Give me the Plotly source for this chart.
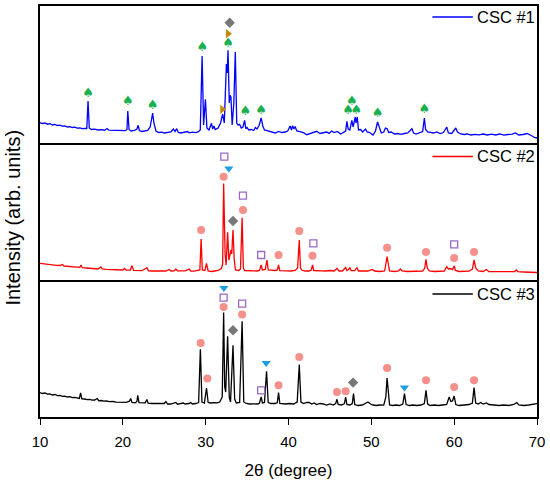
import plotly.graph_objects as go
from plotly.subplots import make_subplots

# 2theta (degree) and intensity (arb. units)
tt1 = [10.0, 10.3, 10.6, 10.9, 11.2, 11.5, 11.8, 12.1, 12.4, 12.7, 13.0, 13.3, 13.6, 13.9, 14.2, 14.5, 14.8, 15.1, 15.4, 15.65,
       15.8, 15.95, 16.2, 16.6, 17.0, 17.4, 17.8, 18.1, 18.3, 18.7, 19.1, 19.5, 19.9, 20.3, 20.5, 20.6, 20.75, 21.0, 21.4, 21.7,
       21.85, 22.0, 22.3, 22.7, 23.0, 23.3, 23.5, 23.6, 23.75, 23.85, 24.0, 24.3, 24.7, 25.0, 25.4, 25.8, 26.1, 26.3, 26.5, 26.7,
       27.0, 27.4, 27.8, 28.0, 28.4, 28.8, 29.1, 29.35, 29.57, 29.75, 29.97, 30.15, 30.4, 30.7, 30.85, 31.0, 31.15, 31.5, 31.8, 32.05,
       32.25, 32.4, 32.5, 32.6, 32.7, 32.85, 32.95, 33.05, 33.2, 33.4, 33.58, 33.75, 33.9, 34.1, 34.3, 34.5, 34.7, 34.85, 35.0, 35.2,
       35.5, 35.8, 36.0, 36.2, 36.45, 36.7, 36.9, 37.1, 37.4, 37.8, 38.1, 38.4, 38.8, 39.2, 39.6, 39.9, 40.2, 40.35, 40.5, 40.65,
       40.8, 41.0, 41.4, 41.8, 42.2, 42.6, 43.0, 43.4, 43.8, 44.2, 44.6, 44.9, 45.2, 45.5, 45.9, 46.3, 46.6, 46.9, 47.05, 47.2,
       47.4, 47.65, 47.8, 48.06, 48.15, 48.3, 48.45, 48.7, 48.95, 49.3, 49.5, 49.8, 50.2, 50.5, 50.75, 51.0, 51.2, 51.5, 51.7, 51.9,
       52.1, 52.4, 52.8, 53.2, 53.6, 54.0, 54.4, 54.9, 55.1, 55.4, 55.8, 56.2, 56.4, 56.55, 56.8, 57.1, 57.5, 57.9, 58.3, 58.7,
       59.1, 59.3, 59.7, 60.2, 60.4, 60.8, 61.2, 61.6, 62.0, 62.5, 63.0, 63.5, 64.0, 64.5, 65.0, 65.5, 66.0, 66.5, 67.0, 67.4,
       67.8, 68.3, 68.8, 69.3, 69.7, 70.0]
int1 = [20.3, 19.5, 20.0, 18.8, 19.3, 18.0, 18.6, 17.5, 17.9, 16.8, 17.2, 16.0, 16.4, 15.5, 15.9, 14.8, 15.2, 14.3, 14.6, 14.5,
        42.0, 15.0, 13.5, 13.8, 13.0, 13.4, 12.8, 14.5, 12.8, 12.6, 12.3, 12.8, 12.0, 12.3, 13.5, 32.0, 13.5, 12.0, 12.5, 14.0,
        17.7, 12.5, 11.5, 11.9, 12.5, 16.0, 25.0, 30.0, 20.0, 17.0, 12.0, 10.5, 10.8, 10.0, 10.6, 11.2, 14.0, 11.5, 14.3, 10.5,
        10.0, 10.6, 11.5, 10.2, 10.8, 10.3, 11.0, 13.0, 87.0, 18.0, 43.7, 15.0, 13.0, 19.7, 14.0, 17.0, 13.5, 15.0, 20.0, 29.0,
        20.0, 55.0, 79.0, 70.0, 92.7, 40.0, 47.7, 46.0, 18.0, 40.0, 91.0, 20.0, 18.0, 18.6, 15.0, 16.0, 22.7, 14.3, 15.5, 13.0,
        13.5, 12.5, 15.5, 14.0, 17.5, 25.0, 17.0, 13.0, 12.3, 11.2, 10.0, 10.0, 11.5, 10.5, 11.0, 12.0, 17.0, 13.0, 17.3, 14.0,
        16.5, 12.0, 11.3, 10.3, 8.3, 9.5, 10.5, 11.7, 9.5, 10.0, 11.0, 9.6, 12.0, 10.5, 11.5, 9.0, 10.5, 12.0, 21.7, 14.0,
        13.0, 22.7, 16.0, 26.0, 20.0, 26.0, 13.0, 13.5, 11.0, 14.0, 11.0, 10.5, 8.0, 12.0, 21.0, 14.0, 10.0, 11.0, 15.0, 14.3,
        10.5, 11.0, 9.0, 9.5, 8.7, 9.5, 10.0, 14.3, 10.0, 9.0, 10.0, 11.5, 25.0, 13.5, 11.0, 10.5, 10.0, 11.0, 9.5, 10.5,
        16.0, 10.0, 9.5, 15.0, 11.0, 9.0, 8.5, 9.0, 8.0, 8.7, 8.2, 9.0, 8.0, 8.8, 8.0, 9.0, 7.8, 8.5, 8.8, 10.0,
        8.0, 8.5, 9.5, 7.5, 5.5, 5.0]

tt2 = [10.0, 10.5, 11.0, 11.5, 12.0, 12.4, 12.7, 12.9, 13.5, 14.0, 14.5, 14.8, 14.95, 15.1, 15.6, 16.0, 16.5, 17.0, 17.35, 17.5,
       18.0, 18.5, 19.0, 19.5, 20.0, 20.2, 20.4, 20.9, 21.1, 21.3, 21.8, 22.3, 22.9, 23.1, 23.6, 24.2, 24.8, 25.2, 25.6, 25.8,
       26.2, 26.4, 26.6, 27.0, 27.5, 28.0, 28.2, 28.6, 29.0, 29.3, 29.45, 29.6, 29.9, 30.1, 30.3, 30.7, 31.1, 31.5, 31.9, 32.05,
       32.17, 32.35, 32.47, 32.65, 32.8, 32.95, 33.06, 33.15, 33.3, 33.45, 33.6, 34.0, 34.2, 34.4, 34.55, 34.7, 35.2, 35.7, 36.2, 36.5,
       36.7, 36.85, 37.2, 37.4, 37.55, 37.9, 38.4, 38.65, 38.8, 38.95, 39.3, 39.8, 40.3, 40.8, 41.1, 41.3, 41.45, 41.6, 42.0, 42.5,
       42.75, 42.9, 43.05, 43.5, 44.0, 44.5, 45.0, 45.5, 45.85, 46.1, 46.5, 46.9, 47.05, 47.25, 47.4, 47.55, 48.0, 48.26, 48.45, 49.0,
       49.6, 50.1, 50.4, 51.0, 51.6, 51.75, 51.9, 52.05, 52.2, 52.8, 53.3, 53.5, 53.7, 54.3, 55.0, 55.6, 56.2, 56.45, 56.6, 56.75,
       57.0, 57.6, 58.2, 58.8, 59.1, 59.3, 59.6, 59.8, 60.0, 60.15, 60.6, 61.2, 61.8, 62.2, 62.4, 62.6, 62.9, 63.5, 63.9, 64.2,
       65.0, 65.8, 66.6, 67.3, 67.5, 67.7, 68.4, 69.2, 70.0]
int2 = [16.6, 16.0, 15.6, 15.3, 14.6, 14.5, 15.5, 14.0, 13.6, 13.2, 12.8, 12.6, 15.0, 12.3, 12.0, 11.8, 11.3, 11.0, 13.0, 11.0,
        10.6, 10.5, 10.2, 10.0, 10.0, 11.5, 9.8, 10.0, 14.3, 9.6, 9.5, 9.3, 12.3, 9.2, 9.0, 9.0, 9.2, 9.0, 10.5, 9.0,
        9.1, 11.0, 9.2, 9.0, 9.2, 11.0, 9.0, 8.8, 9.2, 10.0, 41.0, 10.0, 9.5, 16.6, 9.0, 8.5, 9.0, 9.5, 11.5, 16.0,
        96.6, 25.0, 15.0, 47.6, 20.0, 25.0, 30.0, 26.0, 50.0, 20.0, 10.0, 9.5, 11.0, 62.3, 12.0, 9.5, 9.0, 9.2, 9.0, 9.5,
        15.0, 10.0, 10.5, 20.0, 10.0, 9.5, 9.5, 10.0, 15.0, 9.3, 9.0, 9.2, 9.0, 9.5, 12.0, 40.0, 12.0, 10.0, 9.0, 9.0,
        10.0, 15.0, 9.5, 9.0, 9.2, 9.0, 9.5, 9.0, 11.6, 9.0, 9.0, 12.5, 9.5, 10.5, 12.5, 9.5, 9.3, 12.5, 9.0, 9.0,
        9.0, 10.5, 9.0, 8.5, 9.0, 16.0, 23.3, 16.0, 9.0, 8.5, 9.0, 11.0, 9.0, 8.5, 8.5, 8.7, 9.0, 12.0, 20.6, 12.0,
        9.0, 8.5, 8.5, 9.0, 13.3, 11.0, 11.5, 10.5, 14.0, 9.5, 8.5, 8.5, 8.8, 11.0, 20.0, 12.0, 9.0, 8.5, 10.5, 8.3,
        8.2, 8.2, 8.0, 8.5, 10.0, 8.3, 8.0, 8.0, 7.5]

tt3 = [10.0, 10.3, 10.6, 10.9, 11.2, 11.5, 11.8, 12.1, 12.4, 12.7, 13.0, 13.3, 13.6, 13.9, 14.2, 14.5, 14.75, 14.9, 15.05, 15.4,
       15.7, 16.0, 16.3, 16.6, 16.9, 17.1, 17.4, 17.7, 18.0, 18.4, 18.8, 19.2, 19.6, 20.0, 20.4, 20.8, 20.95, 21.1, 21.5, 21.7,
       21.8, 21.95, 22.3, 22.7, 22.9, 23.05, 23.5, 24.0, 24.5, 25.0, 25.2, 25.4, 25.8, 26.2, 26.4, 26.6, 27.0, 27.3, 27.5, 28.0,
       28.2, 28.4, 28.8, 29.15, 29.36, 29.55, 29.85, 30.1, 30.3, 30.6, 31.0, 31.4, 31.7, 32.0, 32.17, 32.3, 32.42, 32.65, 32.85, 33.0,
       33.3, 33.5, 33.7, 34.1, 34.4, 34.6, 34.9, 35.3, 35.8, 36.3, 36.5, 36.7, 36.85, 37.1, 37.35, 37.55, 37.9, 38.4, 38.65, 38.8,
       38.95, 39.3, 39.7, 40.1, 40.6, 41.05, 41.3, 41.5, 41.8, 42.2, 42.5, 42.8, 43.1, 43.4, 43.8, 44.2, 44.6, 45.0, 45.4, 45.7,
       45.85, 46.0, 46.4, 46.75, 46.9, 47.05, 47.4, 47.7, 47.85, 48.0, 48.4, 48.9, 49.3, 49.6, 49.9, 50.2, 50.6, 51.0, 51.5, 51.75,
       51.9, 52.05, 52.2, 52.6, 53.0, 53.4, 53.8, 54.0, 54.2, 54.6, 55.0, 55.5, 56.0, 56.4, 56.6, 56.8, 57.1, 57.6, 58.1, 58.6,
       59.1, 59.4, 59.6, 59.8, 60.0, 60.2, 60.6, 61.2, 61.8, 62.2, 62.4, 62.6, 62.9, 63.2, 63.5, 63.9, 64.2, 64.8, 65.4, 66.0,
       66.6, 67.2, 67.55, 67.8, 68.4, 69.0, 69.6, 70.0]
int3 = [24.4, 23.5, 24.0, 22.8, 23.2, 22.0, 22.5, 21.3, 21.6, 20.6, 20.9, 20.0, 20.3, 19.4, 19.6, 18.8, 18.6, 24.0, 18.2, 18.0,
        17.3, 17.7, 16.8, 17.0, 18.5, 16.3, 16.5, 15.8, 16.0, 15.3, 15.5, 14.8, 15.0, 14.5, 14.7, 15.8, 18.5, 14.5, 14.2, 15.5,
        21.7, 14.3, 14.0, 14.2, 17.5, 13.8, 13.5, 13.7, 13.2, 13.5, 15.5, 13.0, 13.0, 13.5, 14.5, 12.8, 13.2, 14.0, 13.0, 13.5,
        14.5, 13.0, 13.5, 14.5, 67.7, 15.0, 14.0, 29.0, 14.5, 14.0, 14.4, 14.2, 15.0, 20.0, 104.4, 30.0, 25.0, 80.7, 20.0, 15.0,
        71.7, 18.0, 14.0, 14.5, 95.7, 15.0, 13.5, 13.0, 13.2, 13.0, 14.0, 20.0, 14.0, 14.5, 45.7, 14.5, 13.5, 13.5, 14.5, 24.4,
        13.5, 13.0, 13.0, 13.5, 13.0, 15.0, 52.4, 15.0, 13.5, 14.5, 14.5, 13.0, 14.0, 12.5, 13.5, 13.0, 12.0, 13.0, 12.0, 13.5,
        17.7, 12.5, 12.0, 13.5, 20.0, 12.5, 12.0, 13.5, 23.4, 12.5, 11.5, 12.0, 13.5, 15.0, 13.0, 12.0, 11.5, 12.0, 11.8, 20.0,
        39.0, 20.0, 12.0, 11.5, 12.0, 11.5, 13.0, 23.4, 12.5, 11.5, 12.0, 11.5, 12.0, 13.5, 26.7, 13.0, 11.5, 12.0, 11.5, 12.0,
        12.5, 20.0, 15.5, 16.0, 21.0, 12.5, 11.5, 12.0, 12.5, 14.0, 29.4, 14.0, 13.0, 14.5, 13.0, 14.0, 12.5, 12.0, 11.5, 12.0,
        11.5, 12.5, 14.4, 12.0, 11.5, 12.0, 12.5, 13.4]

# phase markers (2theta, height in the panel)
spade1_x = [15.8, 20.6, 23.6, 29.6, 32.7, 34.8, 36.7, 47.2, 47.65, 48.2, 50.75, 56.4]
spade1_y = [49.3, 41.0, 37.7, 95.0, 99.3, 31.0, 32.7, 32.0, 41.7, 32.7, 29.3, 33.3]
tri_r1_x = [32.0, 32.7]
tri_r1_y = [33.7, 109.3]
diam1_x = [32.9]
diam1_y = [120.3]

circ2_x = [29.45, 32.17, 34.5, 38.8, 41.3, 42.9, 51.9, 56.6, 60.0, 62.4]
circ2_y = [50.0, 103.3, 70.0, 25.0, 49.0, 24.3, 32.3, 28.0, 22.0, 28.0]
sq2_x = [32.25, 34.5, 36.7, 43.0, 60.0]
sq2_y = [123.3, 84.3, 25.0, 36.6, 35.6]
tri_d2_x = [32.8]
tri_d2_y = [111.6]
diam2_x = [33.3]
diam2_y = [59.0]

circ3_x = [29.4, 30.2, 32.17, 34.4, 38.8, 41.3, 45.85, 46.9, 51.9, 56.6, 60.0, 62.4]
circ3_y = [74.0, 38.4, 110.0, 102.4, 31.7, 60.0, 25.0, 25.7, 49.0, 36.7, 30.0, 36.7]
sq3_x = [32.17, 34.4, 36.7]
sq3_y = [119.4, 113.4, 26.7]
tri_d3_x = [32.2, 37.3, 54.0]
tri_d3_y = [129.0, 54.0, 29.4]
diam3_x = [33.3, 47.8]
diam3_y = [86.7, 34.4]

names = ['CSC #1', 'CSC #2', 'CSC #3']
colors = ['#0000ff', '#ff0000', '#000000']

GREEN = '#1aaf4f'
BROWN = '#c68a0c'
GRAY = '#777777'
SALMON = '#f5908a'
PURPLE = '#9a6ac6'
SKY = '#1a9fe0'

fig = make_subplots(rows=3, cols=1, shared_xaxes=True, vertical_spacing=0)

for i, (tt, yy) in enumerate([(tt1, int1), (tt2, int2), (tt3, int3)]):
    fig.add_trace(go.Scatter(x=tt, y=yy, mode='lines', name=names[i],
                             line=dict(color=colors[i], width=1.3), showlegend=False),
                  row=i + 1, col=1)


def add_marks(x, y, row, symbol, color, size=7, open_=False):
    if open_:
        mk = dict(symbol=symbol, size=size, color=color, line=dict(color=color, width=1.3))
    else:
        mk = dict(symbol=symbol, size=size, color=color, line=dict(width=0))
    fig.add_trace(go.Scatter(x=x, y=y, mode='markers', marker=mk, showlegend=False), row=row, col=1)


# panel 1
fig.add_trace(go.Scatter(x=spade1_x, y=spade1_y, mode='text', text=['♠'] * len(spade1_x),
                         textfont=dict(color=GREEN, size=13, family='DejaVu Sans'),
                         textposition='middle center', showlegend=False), row=1, col=1)
add_marks(tri_r1_x, tri_r1_y, 1, 'triangle-right', BROWN, 8)
add_marks(diam1_x, diam1_y, 1, 'diamond', GRAY, 8)
# panel 2
add_marks(circ2_x, circ2_y, 2, 'circle', SALMON, 8)
add_marks(sq2_x, sq2_y, 2, 'square-open', PURPLE, 7, open_=True)
add_marks(tri_d2_x, tri_d2_y, 2, 'triangle-down', SKY, 8)
add_marks(diam2_x, diam2_y, 2, 'diamond', GRAY, 8)
# panel 3
add_marks(circ3_x, circ3_y, 3, 'circle', SALMON, 8)
add_marks(sq3_x, sq3_y, 3, 'square-open', PURPLE, 7, open_=True)
add_marks(tri_d3_x, tri_d3_y, 3, 'triangle-down', SKY, 8)
add_marks(diam3_x, diam3_y, 3, 'diamond', GRAY, 8)

for r in (1, 2, 3):
    fig.update_yaxes(range=[0, 137], showticklabels=False, ticks='', showgrid=False, zeroline=False,
                     showline=True, mirror=True, linecolor='black', linewidth=1.8, row=r, col=1)
    # only the top panel mirrors its x line, so the panel borders are not doubled
    fig.update_xaxes(range=[10, 70], showgrid=False, zeroline=False, showline=True, mirror=(r == 1),
                     linecolor='black', linewidth=1.8, row=r, col=1)
fig.update_xaxes(showticklabels=False, ticks='', row=1, col=1)
fig.update_xaxes(showticklabels=False, ticks='', row=2, col=1)
fig.update_xaxes(tickvals=[10, 20, 30, 40, 50, 60, 70], ticks='outside', ticklen=6, tickwidth=1.4,
                 tickcolor='black', tickfont=dict(size=15, color='black'), ticklabelstandoff=4,
                 title=dict(text='2θ (degree)', font=dict(size=17, color='black'), standoff=15),
                 row=3, col=1)

# legend entries at top right of each panel
leg_y = [0.9733, 0.634, 0.299]
for i in range(3):
    fig.add_shape(type='line', xref='paper', yref='paper', x0=0.7896, x1=0.8709, y0=leg_y[i], y1=leg_y[i],
                  line=dict(color=colors[i], width=1.5))
    fig.add_annotation(x=0.8754, y=leg_y[i], xref='paper', yref='paper', text=names[i], showarrow=False,
                       xanchor='left', yanchor='middle', font=dict(size=16.5, color='black'))

fig.add_annotation(x=-0.0533, y=0.484, xref='paper', yref='paper', text='Intensity (arb. units)',
                   textangle=-90, showarrow=False, xanchor='center', yanchor='middle',
                   font=dict(size=20, color='black'))

fig.update_layout(
    width=550, height=483,
    margin=dict(l=40, r=13, t=4, b=66),
    plot_bgcolor='white', paper_bgcolor='white',
    font=dict(family='Arial, Liberation Sans, sans-serif', color='black'),
)
fig.write_html("out.html", config={'displayModeBar': False},
               post_script="document.body.style.margin='0';")
